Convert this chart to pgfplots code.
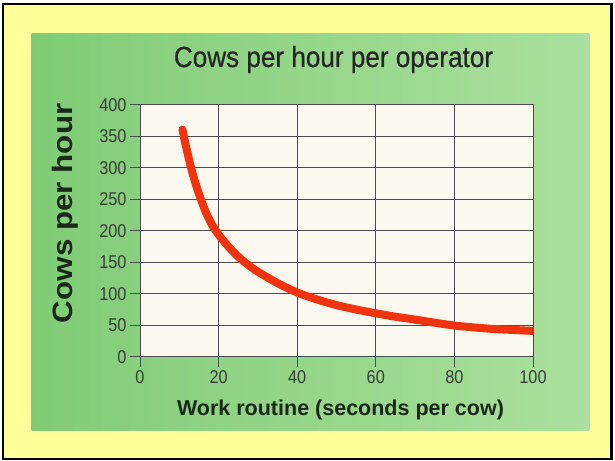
\documentclass[border=0pt]{standalone}
\usepackage{fontspec}
\usepackage{pgfplots}
\pgfplotsset{compat=1.18}
\setmainfont{Liberation Sans}
\newfontfamily\tickfont[FakeStretch=0.88]{Liberation Sans}
\newfontfamily\titlefont[FakeStretch=0.9,FakeBold=0.6]{Liberation Sans}
\newfontfamily\ylabfont[FakeStretch=1.12]{Liberation Sans}
\definecolor{frameyellow}{RGB}{255,255,153}
\definecolor{gleft}{RGB}{128,204,118}
\definecolor{gmid}{RGB}{150,214,138}
\definecolor{gright}{RGB}{170,224,158}
\definecolor{plotbg}{RGB}{251,248,239}
\definecolor{gridc}{RGB}{75,75,88}
\definecolor{curvered}{RGB}{242,52,14}
\definecolor{ticktext}{RGB}{55,60,55}
\definecolor{labtext}{RGB}{25,40,25}
\begin{document}
\begin{tikzpicture}
\useasboundingbox (0,0) rectangle (615bp,461bp);
\fill[white] (0,0) rectangle (615bp,461bp);
\draw[line width=2.7bp,fill=frameyellow] (3bp,2.1bp) rectangle (611.5bp,457.1bp);
\shade[left color=gleft,right color=gright,middle color=gmid] (31.7bp,30.7bp) rectangle (589.3bp,427.7bp);
\begin{axis}[
  at={(140bp,104.3bp)}, anchor=south west,
  scale only axis, width=393bp, height=251.7bp,
  xmin=0, xmax=100, ymin=0, ymax=400,
  xtick={0,20,...,100}, ytick={0,50,...,400},
  grid=major,
  major grid style={draw=gridc,line width=1bp},
  axis line style={draw=gridc,line width=1bp},
  tick style={draw=gridc,line width=1bp},
  major tick length=10bp,
  tick align=outside, tick pos=left,
  axis background/.style={fill=plotbg},
  /pgf/number format/assume math mode=true,
  ticklabel style={font=\tickfont\fontsize{18.5bp}{20bp}\selectfont, text=ticktext},
  title={Cows per hour per operator},
  xlabel={Work routine (seconds per cow)},
  ylabel={Cows per hour},
  every axis title/.style={at={(axis description cs:0.5,1)},anchor=base,xshift=-3bp,yshift=38bp,font=\titlefont\fontsize{29bp}{31bp}\selectfont,text=black!85},
  every axis x label/.style={at={(axis description cs:0.5,0)},anchor=base,xshift=4bp,yshift=-58.3bp,font=\bfseries\fontsize{21.5bp}{24bp}\selectfont,text=labtext},
  every axis y label/.style={at={(axis description cs:0,0.5)},xshift=-67bp,yshift=17.5bp,rotate=90,anchor=base,font=\ylabfont\bfseries\fontsize{28bp}{30bp}\selectfont,text=labtext},
]
\addplot[curvered, line width=8bp, smooth, line cap=round] coordinates {
(10.8,361) (11.5,340) (12.8,305) (14,278) (15.5,250) (17,226) (18.5,208) (20,194)
(22.5,175) (25,159) (27.5,146) (30,135) (35,117) (40,102) (45,91) (50,82) (55,75)
(60,69) (65,63.5) (70,59) (75,54) (80,49.5) (85,46.5) (90,44) (95,42.5) (100,41)
};
\end{axis}
\end{tikzpicture}
\end{document}
